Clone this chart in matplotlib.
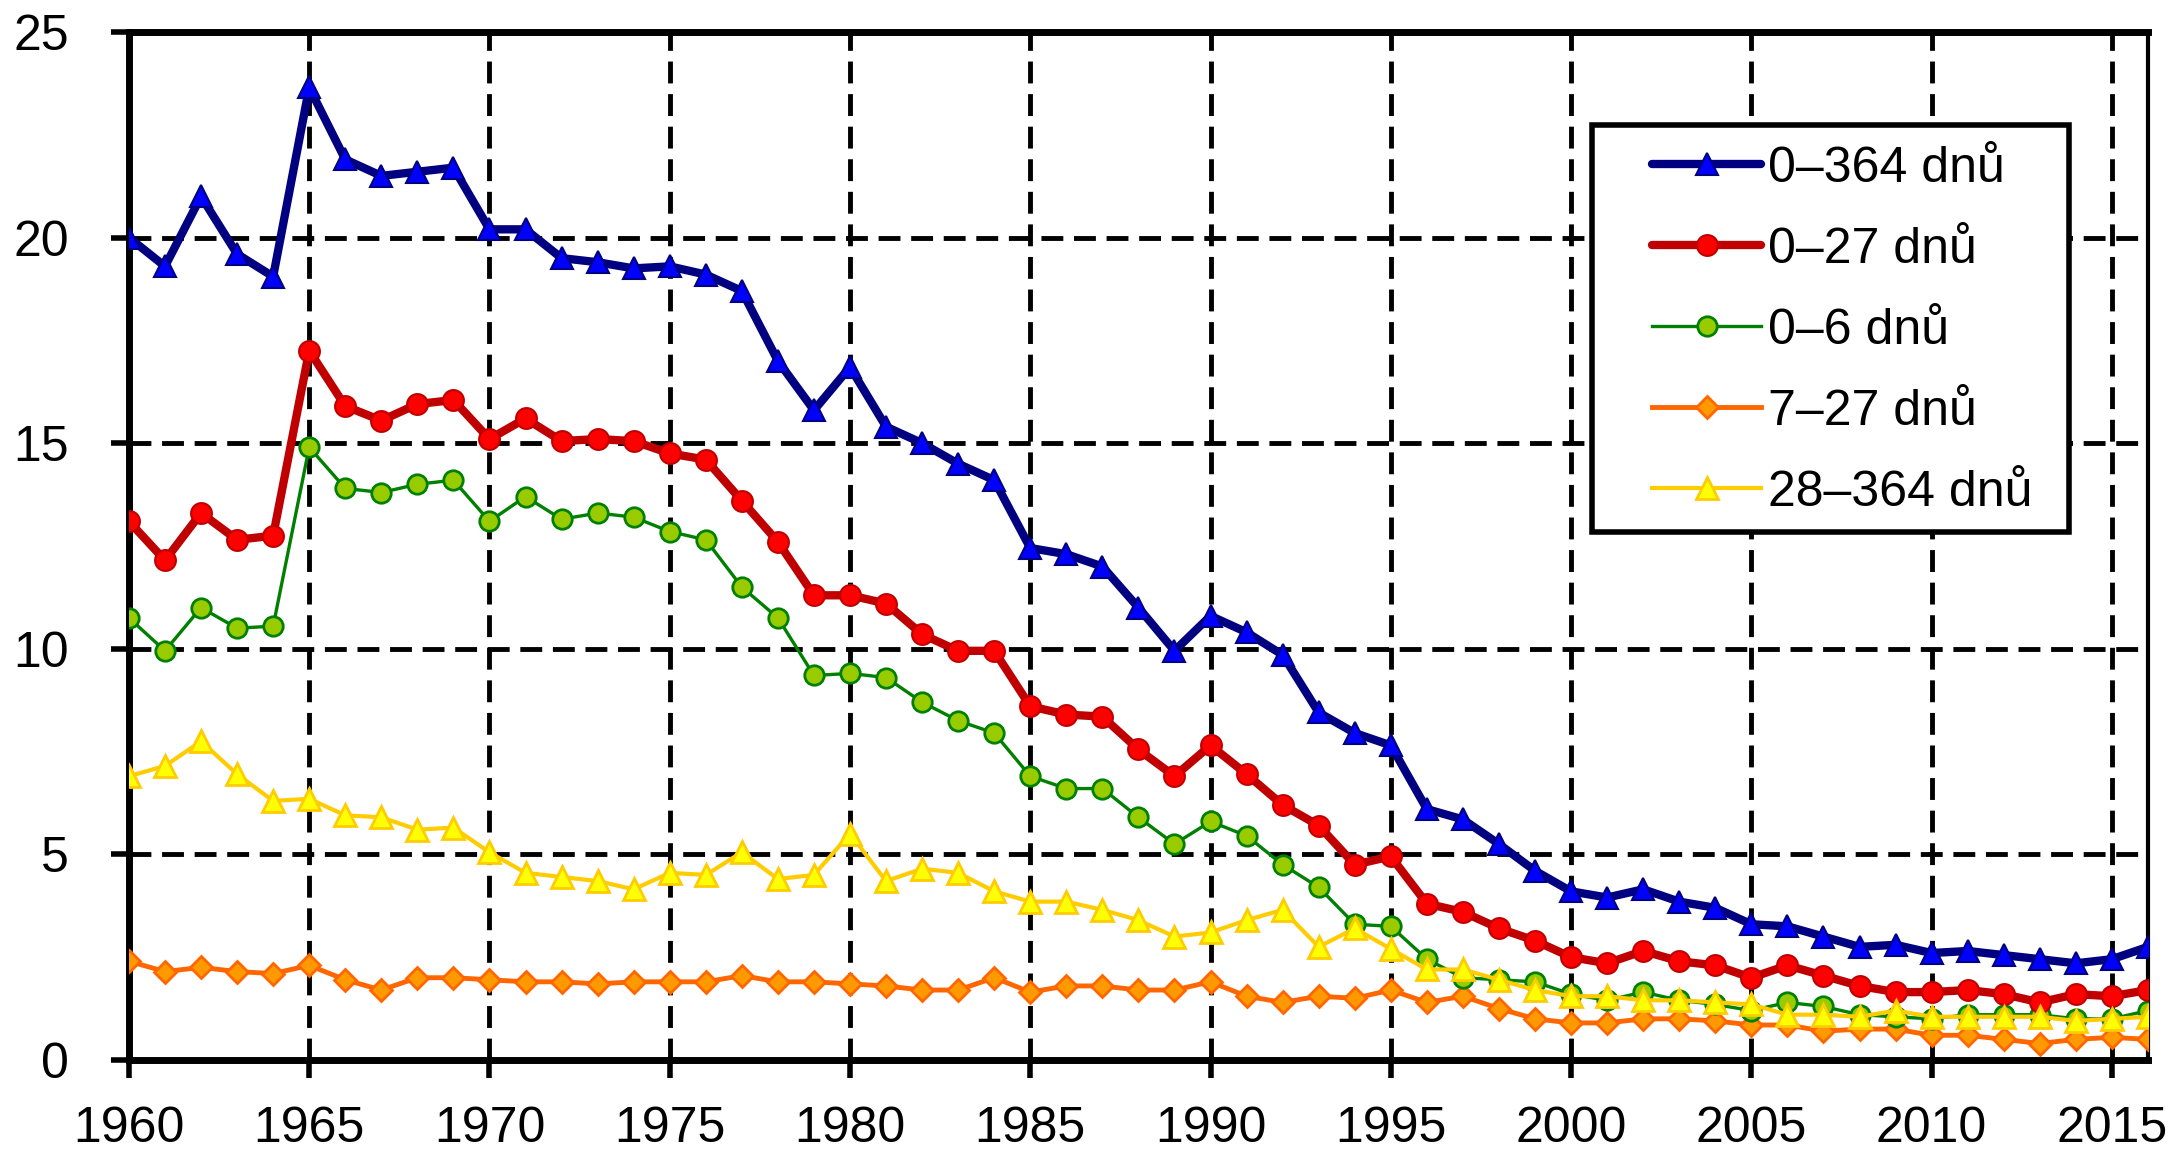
import numpy as np
import matplotlib
matplotlib.use("Agg")
from matplotlib import pyplot as plt
from matplotlib.patches import Rectangle

plt.rcParams['font.family'] = ['Liberation Sans Narrow', 'Liberation Sans', 'DejaVu Sans']

years = np.arange(1960, 2017)

d0_364 = [20.0, 19.3, 21.0, 19.6, 19.05, 23.65, 21.9, 21.5, 21.6, 21.7,
          20.2, 20.2, 19.5, 19.4, 19.25, 19.3, 19.1, 18.7, 17.0, 15.8,
          16.85, 15.4, 15.0, 14.5, 14.1, 12.45, 12.3, 12.0, 11.0, 9.95,
          10.8, 10.4, 9.85, 8.45, 7.95, 7.65, 6.1, 5.85, 5.25, 4.6,
          4.1, 3.95, 4.15, 3.85, 3.7, 3.3, 3.25, 3.0, 2.75, 2.8,
          2.6, 2.65, 2.55, 2.45, 2.35, 2.45, 2.75]
d0_27 = [13.1, 12.15, 13.3, 12.65, 12.75, 17.25, 15.9, 15.55, 15.95, 16.05,
         15.1, 15.6, 15.05, 15.1, 15.05, 14.75, 14.6, 13.6, 12.6, 11.3,
         11.3, 11.1, 10.35, 9.95, 9.95, 8.6, 8.4, 8.35, 7.55, 6.9,
         7.65, 6.95, 6.2, 5.7, 4.75, 4.95, 3.8, 3.6, 3.2, 2.9,
         2.5, 2.35, 2.65, 2.4, 2.3, 2.0, 2.3, 2.05, 1.8, 1.65,
         1.65, 1.7, 1.6, 1.4, 1.6, 1.55, 1.7]
d0_6 = [10.75, 9.95, 11.0, 10.5, 10.55, 14.9, 13.9, 13.8, 14.0, 14.1,
        13.1, 13.7, 13.15, 13.3, 13.2, 12.85, 12.65, 11.5, 10.75, 9.35,
        9.4, 9.3, 8.7, 8.25, 7.95, 6.9, 6.6, 6.6, 5.9, 5.25,
        5.8, 5.45, 4.75, 4.2, 3.3, 3.25, 2.45, 2.0, 1.95, 1.9,
        1.6, 1.45, 1.65, 1.45, 1.35, 1.2, 1.4, 1.3, 1.1, 1.05,
        1.0, 1.1, 1.1, 1.1, 1.0, 1.0, 1.2]
d7_27 = [2.4, 2.15, 2.25, 2.15, 2.1, 2.3, 1.95, 1.7, 2.0, 2.0,
         1.95, 1.9, 1.9, 1.85, 1.9, 1.9, 1.9, 2.05, 1.9, 1.9,
         1.85, 1.8, 1.7, 1.7, 2.0, 1.65, 1.8, 1.8, 1.7, 1.7,
         1.9, 1.55, 1.4, 1.55, 1.5, 1.7, 1.4, 1.55, 1.25, 1.0,
         0.9, 0.9, 1.0, 1.0, 0.95, 0.85, 0.85, 0.7, 0.75, 0.75,
         0.6, 0.6, 0.5, 0.4, 0.5, 0.55, 0.5]
d28_364 = [6.9, 7.15, 7.75, 6.95, 6.3, 6.35, 5.95, 5.9, 5.6, 5.65,
           5.05, 4.55, 4.45, 4.35, 4.15, 4.55, 4.5, 5.05, 4.4, 4.5,
           5.5, 4.35, 4.65, 4.55, 4.1, 3.85, 3.85, 3.65, 3.4, 3.0,
           3.1, 3.4, 3.65, 2.75, 3.2, 2.7, 2.2, 2.2, 1.95, 1.7,
           1.55, 1.55, 1.45, 1.45, 1.4, 1.35, 1.1, 1.1, 1.05, 1.2,
           1.05, 1.05, 1.05, 1.05, 0.95, 1.0, 1.05]

labels = ['0–364 dnů', '0–27 dnů', '0–6 dnů', '7–27 dnů', '28–364 dnů']

fig = plt.figure(figsize=(21.78, 11.54), dpi=100)
ax = fig.add_axes([0.0592, 0.0815, 0.927, 0.8908])

ax.plot(years, d0_364, color='#000080', lw=6, marker='^', ms=16,
        mfc='#0000FF', mec='#000080', mew=1.5, label=labels[0], zorder=5,
        solid_capstyle='round')
ax.plot(years, d0_27, color='#C00000', lw=6, marker='o', ms=15,
        mfc='#FF0000', mec='#C00000', mew=1.5, label=labels[1], zorder=5,
        solid_capstyle='round')
ax.plot(years, d0_6, color='#008000', lw=2.4, marker='o', ms=14,
        mfc='#99CC00', mec='#008000', mew=2, label=labels[2], zorder=4)
ax.plot(years, d7_27, color='#FF6600', lw=3.5, marker='D', ms=11,
        mfc='#FF9900', mec='#FF6600', mew=2, label=labels[3], zorder=3)
ax.plot(years, d28_364, color='#FFCC00', lw=3, marker='^', ms=16,
        mfc='#FFFF00', mec='#FFCC00', mew=2, label=labels[4], zorder=6)

ax.set_xlim(1960, 2016)
ax.set_ylim(0, 25)
ax.set_xticks(np.arange(1960, 2016, 5))
ax.set_yticks(np.arange(0, 26, 5))
ax.grid(True, color='black', lw=3.5, linestyle=(0, (4.5, 2.2)))
ax.set_axisbelow(True)

for side in ['left', 'bottom', 'top']:
    ax.spines[side].set_linewidth(5)
ax.spines['right'].set_linewidth(3)
ax.tick_params(axis='both', direction='out', length=13, width=4, labelsize=36)
ax.tick_params(axis='x', pad=20)
ax.tick_params(axis='y', pad=30)

# legend box
box = Rectangle((0.7244, 0.5135), 0.2364, 0.396, transform=ax.transAxes,
                facecolor='white', edgecolor='black', lw=4, zorder=10)
ax.add_patch(box)
leg = ax.legend(loc='center left', bbox_to_anchor=(0.7546, 0.7095),
                fontsize=36, frameon=False, handlelength=2.17,
                handletextpad=0.15, labelspacing=0.70, borderpad=0,
                borderaxespad=0)
leg.set_zorder(11)

fig.savefig('out.png', dpi=100)
